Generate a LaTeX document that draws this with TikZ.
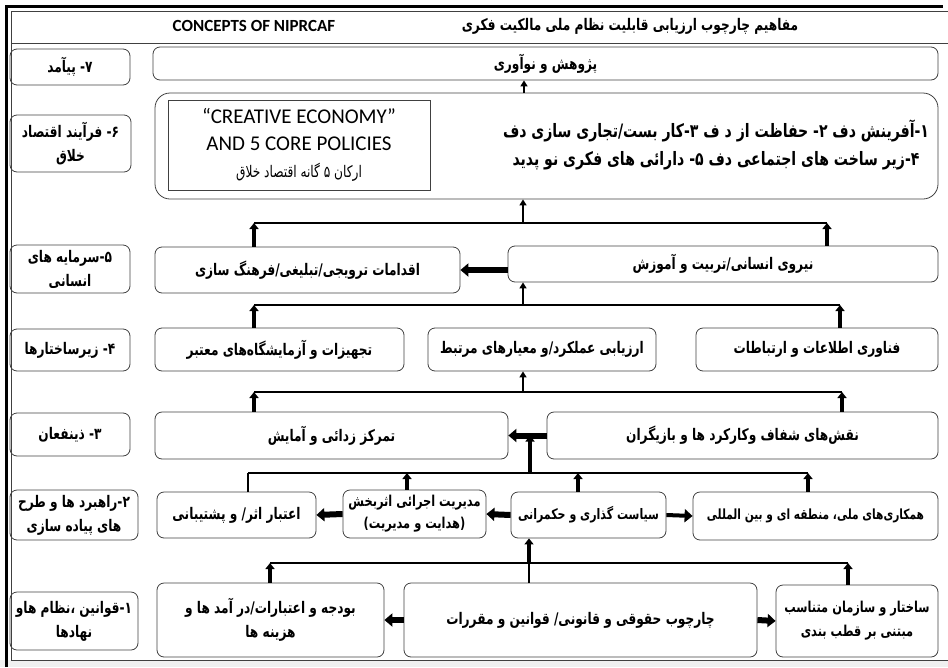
\documentclass[tikz,border=0pt]{standalone}
\usepackage{fontspec}
\usetikzlibrary{arrows.meta,positioning}
\TeXXeTstate=1
\newfontfamily\farsi[Script=Arabic,FakeStretch=0.76]{DejaVu Sans}
\newfontfamily\latin{Carlito}
\newcommand{\fatext}[1]{\beginR #1\endR}
\definecolor{boxgray}{rgb}{0.25,0.25,0.25}
\definecolor{bargray}{rgb}{0.94,0.94,0.94}

\begin{document}
\begin{tikzpicture}[x=1pt,y=-1pt,
  box/.style={draw=boxgray,line width=0.8pt,rounded corners=7pt,inner sep=0pt,align=center,font=\farsi\bfseries\fontsize{16}{24}\selectfont},
  tag/.style={box,minimum width=120pt},
  bus/.style={line width=1.6pt},
  feed/.style={line width=3.5pt,-{Triangle[width=9pt,length=6pt]}},
  rise/.style={line width=2.2pt,-{Triangle[width=7pt,length=6pt]}},
  push/.style={line width=6pt,-{Triangle[width=13pt,length=8pt]}}]
\useasboundingbox (0,0) rectangle (948,667);
% window
\fill[bargray] (0,660) rectangle (948,667);
\draw[boxgray,line width=0.6pt] (11,11) rectangle (948,660);
\draw[boxgray,line width=0.6pt] (11,43) -- (948,43);
\draw[line width=3pt] (6,667) -- (6,6) -- (943,6);
\draw (254,26) node (entitle) [font=\latin\bfseries\fontsize{17}{20}\selectfont] {CONCEPTS OF NIPRCAF};
\draw (630,26) node (fatitle) [font=\farsi\bfseries\fontsize{16}{18}\selectfont] {\fatext{مفاهیم چارچوب ارزیابی قابلیت نظام ملی مالکیت فکری}};

% level names
\draw (70,67) node (t7) [tag,minimum height=36pt] {\fatext{۷- پیآمد}};
\draw (70.5,143.5) node (t6) [tag,minimum width=121pt,minimum height=57pt] {\fatext{۶- فرآیند اقتصاد}\\\fatext{خلاق}};
\draw (70,269) node (t5) [tag,minimum height=48pt] {\fatext{۵-سرمایه های}\\\fatext{انسانی}};
\draw (70,350) node (t4) [tag,minimum height=42pt] {\fatext{۴- زیرساختارها}};
\draw (70,434.5) node (t3) [tag,minimum height=43pt] {\fatext{۳- ذینفعان}};
\draw (74,515) node (t2) [tag,minimum width=128pt,minimum height=50pt] {\fatext{۲-راهبرد ها و طرح}\\\fatext{های پیاده سازی}};
\draw (74,621) node (t1) [tag,minimum width=128pt,minimum height=58pt] {\fatext{۱-قوانین ،نظام هاو}\\\fatext{نهادها}};

% level 7 and 6
\draw (545.5,63.5) node (r7) [box,minimum width=785pt,minimum height=33pt] {\fatext{پژوهش و نوآوری}};
\draw (546.5,146) node (r6) [box,rounded corners=15pt,minimum width=783pt,minimum height=106pt] {};
\draw (299,145) node (core) [draw=boxgray,line width=0.8pt,minimum width=262pt,minimum height=90pt,align=center,font=\latin\fontsize{21}{27}\selectfont] {“CREATIVE ECONOMY”\\AND 5 CORE POLICIES\\{\farsi\fontsize{16}{27}\selectfont\fatext{ارکان ۵ گانه اقتصاد خلاق}}};
\draw (716,145) node (fives) [align=center,font=\farsi\bfseries\fontsize{18.5}{28}\selectfont] {\fatext{۱-آفرینش دف ۲- حفاظت از د ف ۳-کار بست/تجاری سازی دف}\\\fatext{۴-زیر ساخت های اجتماعی دف ۵- دارائی های فکری نو پدید}};

% level 5
\draw (307.5,270) node (r5l) [box,minimum width=305pt,minimum height=46pt] {\fatext{اقدامات ترویجی/تبلیغی/فرهنگ سازی}};
\draw (723,264) node (r5r) [box,minimum width=430pt,minimum height=36pt] {\fatext{نیروی انسانی/تربیت و آموزش}};

% level 4
\draw (279.5,349.5) node (r4l) [box,minimum width=249pt,minimum height=43pt] {\fatext{تجهیزات و آزمایشگاه‌های معتبر}};
\draw (542,349.5) node (r4m) [box,minimum width=228pt,minimum height=43pt] {\fatext{ارزیابی عملکرد/و معیارهای مرتبط}};
\draw (817,349.5) node (r4r) [box,minimum width=242pt,minimum height=43pt] {\fatext{فناوری اطلاعات و ارتباطات}};

% level 3
\draw (331.5,435.5) node (r3l) [box,minimum width=353pt,minimum height=47pt] {\fatext{تمرکز زدائی و آمایش}};
\draw (742.5,435.5) node (r3r) [box,minimum width=391pt,minimum height=47pt] {\fatext{نقش‌های شفاف وکارکرد ها و بازیگران}};

% level 2
\draw (236.5,515) node (r2a) [box,minimum width=159pt,minimum height=46pt] {\fatext{اعتبار اثر/ و پشتیبانی}};
\draw (414.5,514) node (r2b) [box,minimum width=143pt,minimum height=48pt,font=\farsi\bfseries\fontsize{15}{22}\selectfont] {\fatext{مدیریت اجرائی اثربخش}\\\fatext{(هدایت و مدیریت)}};
\draw (588.5,515) node (r2c) [box,minimum width=155pt,minimum height=46pt,font=\farsi\bfseries\fontsize{14.5}{22}\selectfont] {\fatext{سیاست گذاری و حکمرانی}};
\draw (815.5,516) node (r2d) [box,minimum width=245pt,minimum height=48pt,font=\farsi\bfseries\fontsize{14}{22}\selectfont] {\fatext{همکاری‌های ملی، منطقه ای و بین المللی}};

% level 1
\draw (270.5,620) node (r1a) [box,minimum width=227pt,minimum height=74pt] {\fatext{بودجه و اعتبارات/در آمد ها و}\\\fatext{هزینه ها}};
\draw (580.5,620) node (r1b) [box,minimum width=353pt,minimum height=74pt] {\fatext{چارچوب حقوقی و قانونی/ قوانین و مقررات}};
\draw (857,621) node (r1c) [box,minimum width=162pt,minimum height=72pt,font=\farsi\bfseries\fontsize{15}{24}\selectfont] {\fatext{ساختار و سازمان متناسب}\\\fatext{مبتنی بر قطب بندی}};

% bus points
\coordinate (b7) at (524,93);
\coordinate (b6) at (523,223);
\coordinate (b6l) at (254,223);
\coordinate (b6r) at (827,223);
\coordinate (b5) at (523,305);
\coordinate (b5l) at (254,305);
\coordinate (b5r) at (840,305);
\coordinate (b4) at (523,392);
\coordinate (b4l) at (254,392);
\coordinate (b4r) at (842,392);
\coordinate (b3) at (530,473);
\coordinate (b3a) at (248,473);
\coordinate (b3b) at (407,473);
\coordinate (b3c) at (578,473);
\coordinate (b3d) at (808,473);
\coordinate (b1) at (529,563);
\coordinate (b1l) at (270,563);
\coordinate (b1r) at (848,563);

\draw[rise] (b7) -- (b7 |- r7.south);
\draw[bus] (b6l) -- (b6r);
\draw[rise] (b6) -- (b6 |- r6.south);
\draw[feed] (r5l.north -| b6l) -- (b6l);
\draw[feed] (r5r.north -| b6r) -- (b6r);
\draw[push] (r5l.east -| r5r.west) -- (r5l.east);

\draw[bus] (b5l) -- (b5r);
\draw[rise] (b5) -- (b5 |- r5r.south);
\draw[feed] (r4l.north -| b5l) -- (b5l);
\draw[feed] (r4r.north -| b5r) -- (b5r);

\draw[bus] (b4l) -- (b4r);
\draw[rise] (b4) -- (b4 |- r4m.south);
\draw[feed] (r3l.north -| b4l) -- (b4l);
\draw[feed] (r3r.north -| b4r) -- (b4r);
\draw[push] (r3r.west) -- (r3l.east);

\draw[bus] (b3a) -- (b3d);
\draw[feed] (b3) -- (b3 |- r3r.west);
\draw[bus] (r2a.north -| b3a) -- (b3a);
\draw[feed] (r2b.north -| b3b) -- (b3b);
\draw[feed] (r2c.north -| b3c) -- (b3c);
\draw[feed] (r2d.north -| b3d) -- (b3d);
\draw[push] (r2c.west) -- (r2b.east);
\draw[push] (r2b.west) -- (r2a.east);
\draw[push,line width=4pt] (r2c.east) -- (r2d.west);

\draw[bus] (b1l) -- (b1r);
\draw[bus] (r1b.north -| b1) -- (b1);
\draw[feed] (b1) -- (b1 |- r2c.south);
\draw[feed] (r1a.north -| b1l) -- (b1l);
\draw[feed] (r1c.north -| b1r) -- (b1r);
\draw[push] (r1b.west) -- (r1a.east);
\draw[push] (r1b.east) -- (r1c.west);
\end{tikzpicture}
\end{document}
